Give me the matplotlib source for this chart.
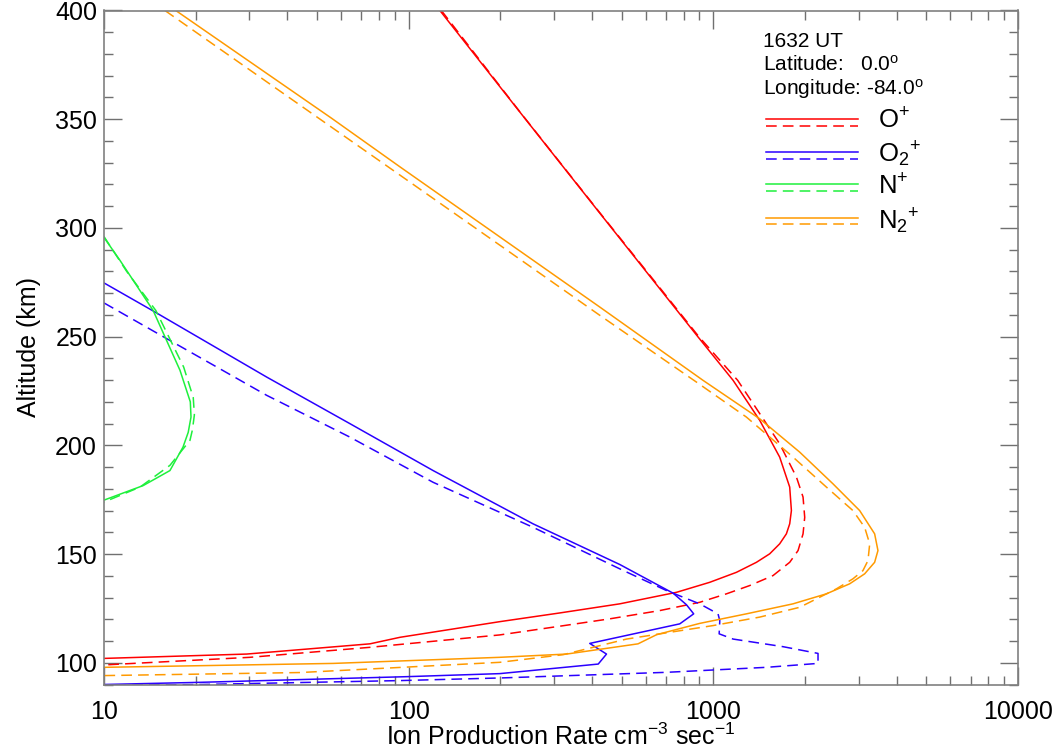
import matplotlib
matplotlib.use("Agg")
import matplotlib.pyplot as plt
from matplotlib.ticker import MultipleLocator, LogLocator, NullFormatter

plt.rcParams['font.family'] = ['Liberation Sans', 'DejaVu Sans']
plt.rcParams['mathtext.fontset'] = 'custom'
plt.rcParams['mathtext.rm'] = 'Liberation Sans'
plt.rcParams['mathtext.it'] = 'Liberation Sans:italic'
plt.rcParams['mathtext.bf'] = 'Liberation Sans:bold'

# ---- data (ion production rate cm^-3 s^-1 vs altitude km) ----
op_solid_rate = [126.6, 231.7, 424, 888, 1161, 1420, 1651, 1781, 1804, 1781, 1737, 1651, 1531,
                 1385, 1191, 973, 757, 493, 313, 199, 93.6, 74.6, 29.4, 10]
op_solid_alt = [400, 353.3, 306.8, 250.1, 229.9, 211.5, 194.6, 180.8, 170, 163.9, 159.3, 154.7,
                150.1, 146.2, 141.6, 137, 132.4, 127.1, 122.9, 118.9, 111.7, 108.7, 104, 102]
op_dash_rate = [128, 232, 425, 895, 1202, 1420, 1651, 1874, 1970, 1995, 1970, 1897, 1781, 1570,
                1316, 1104, 902, 667, 457, 313, 199, 74.6, 30.1, 10]
op_dash_alt = [400, 353.3, 306.8, 250.1, 229.9, 214.6, 200.7, 185.4, 176.2, 166.9, 159.3, 151.6,
               146.2, 140.1, 135.5, 131.7, 127.8, 124, 120.2, 116.8, 112.8, 107.1, 102.5, 99]

o2p_solid_rate = [10, 14.5, 34.2, 64.1, 120.3, 256, 493, 738, 816, 862, 776, 393, 446, 419, 199,
                  98.4, 20.7, 10]
o2p_solid_alt = [274.7, 261.8, 231.4, 210, 188.4, 163.9, 145.2, 132, 126.7, 122.5, 117.9, 108.9,
                 104, 99.4, 95, 93.6, 91, 90]
o2p_dash_rate = [10, 16.05, 34.2, 64.1, 120.3, 256, 493, 702, 902, 1036, 1050, 1045, 1161, 1693,
                 2206, 2206, 1494, 702, 199, 93.6, 20.7, 10]
o2p_dash_alt = [265.5, 249.1, 223, 203.8, 183, 162.3, 143.2, 133.2, 127.1, 122.5, 119.4, 113.3,
                110.9, 107.4, 104.3, 99.7, 97.9, 95.6, 93, 91.8, 90, 89.5]

np_solid_rate = [10, 11.28, 14.5, 17.76, 19.2, 19.3, 18.9, 18.17, 16.46, 13.45, 10]
np_solid_alt = [295.6, 285.1, 262, 234.5, 220, 213, 206, 199.2, 188.4, 181.5, 174.8]
np_dash_rate = [10, 11.87, 14.8, 18.26, 19.63, 19.8, 19.5, 19.15, 16.46, 13.13, 10]
np_dash_alt = [296, 280, 262, 236, 222, 214, 207, 202.3, 190.8, 180.8, 173.9]

n2p_solid_rate = [17.2, 55.9, 93.6, 424, 925, 1420, 1920, 2470, 3022, 3384, 3470, 3384, 3138,
                  2801, 2350, 1826, 1284, 902, 651, 566, 330, 199, 56.5, 10]
n2p_solid_alt = [400, 350.4, 328.1, 263.6, 229.9, 212.2, 196.9, 182.3, 170, 159.3, 151.6, 146.2,
                 140.9, 136.3, 131.7, 127.1, 122.5, 118.1, 112.9, 108.7, 104, 102.5, 99.7, 97.9]
n2p_dash_rate = [15.85, 49.9, 93.6, 424, 880, 1284, 1826, 2350, 2872, 3138, 3260, 3218, 3098,
                 2872, 2535, 1920, 1420, 998, 719, 519, 403, 321, 199, 44, 10]
n2p_dash_alt = [400, 351.1, 324.3, 259.8, 229.1, 213, 194.6, 180.8, 170, 162.3, 154.7, 147,
                142.4, 138.6, 134, 125.5, 121, 117.1, 114, 110.9, 107.1, 103.7, 100.2, 95.5, 94.1]

species_labels = ['O$^{+}$', 'O$_{2}{}^{+}$', 'N$^{+}$', 'N$_{2}{}^{+}$']
info_lines = ['1632 UT', 'Latitude:   0.0$^{\\rm o}$', 'Longitude: -84.0$^{\\rm o}$']
x_ticks = [10, 100, 1000, 10000]
x_ticklabels = ['10', '100', '1000', '10000']

RED, BLUE, GREEN, ORANGE = '#ff0000', '#2a00ff', '#1ef03c', '#ff9a00'
colors = [RED, BLUE, GREEN, ORANGE]
DASH = (0, (7, 4))
LW = 1.1

fig = plt.figure(figsize=(10.61, 7.55), dpi=100)
ax = fig.add_axes([104 / 1061, 1 - 684.5 / 755, 914 / 1061, 674 / 755])

series = [
    (op_solid_rate, op_solid_alt, op_dash_rate, op_dash_alt, RED),
    (o2p_solid_rate, o2p_solid_alt, o2p_dash_rate, o2p_dash_alt, BLUE),
    (np_solid_rate, np_solid_alt, np_dash_rate, np_dash_alt, GREEN),
    (n2p_solid_rate, n2p_solid_alt, n2p_dash_rate, n2p_dash_alt, ORANGE),
]
for sr, sa, dr, da, c in series:
    ax.plot(sr, sa, color=c, lw=LW, solid_joinstyle='round')
    ax.plot(dr, da, color=c, lw=LW, linestyle=DASH)

ax.set_xscale('log')
ax.set_xlim(10, 10000)
ax.set_ylim(90, 400)
ax.set_xticks(x_ticks)
ax.set_xticklabels(x_ticklabels)
ax.xaxis.set_minor_locator(LogLocator(base=10, subs=range(2, 10)))
ax.xaxis.set_minor_formatter(NullFormatter())
ax.yaxis.set_major_locator(MultipleLocator(50))
ax.yaxis.set_minor_locator(MultipleLocator(10))

for sp in ax.spines.values():
    sp.set_color('#808080')
    sp.set_linewidth(1.2)

ax.tick_params(which='both', direction='in', top=True, right=True, color='#707070', width=1.0)
ax.tick_params(which='major', length=13, labelsize=18)
ax.tick_params(axis='x', which='major', pad=11)
ax.tick_params(axis='y', which='major', pad=5)
ax.tick_params(which='minor', length=6.5)

ax.set_xlabel('Ion Production Rate cm$^{-3}$ sec$^{-1}$', fontsize=18, labelpad=0)
ax.set_ylabel('Altitude (km)', fontsize=18, labelpad=10)

# info text
info_y = [0.954, 0.919, 0.884]
for t, yy in zip(info_lines, info_y):
    ax.text(0.721, yy, t, transform=ax.transAxes, fontsize=15, va='center', ha='left')

# legend samples
leg_solid_y = [0.839, 0.790, 0.743, 0.692]
leg_dash_y = [0.829, 0.780, 0.732, 0.683]
leg_label_y = [0.836, 0.786, 0.738, 0.688]
for lab, c, ys, yd, yl in zip(species_labels, colors, leg_solid_y, leg_dash_y, leg_label_y):
    ax.plot([0.724, 0.825], [ys, ys], color=c, lw=LW, transform=ax.transAxes, clip_on=False)
    ax.plot([0.724, 0.825], [yd, yd], color=c, lw=LW, linestyle=DASH, transform=ax.transAxes,
            clip_on=False)
    ax.text(0.847, yl, lab, transform=ax.transAxes, fontsize=18.5, va='center', ha='left')

fig.savefig('out.png', dpi=100)
